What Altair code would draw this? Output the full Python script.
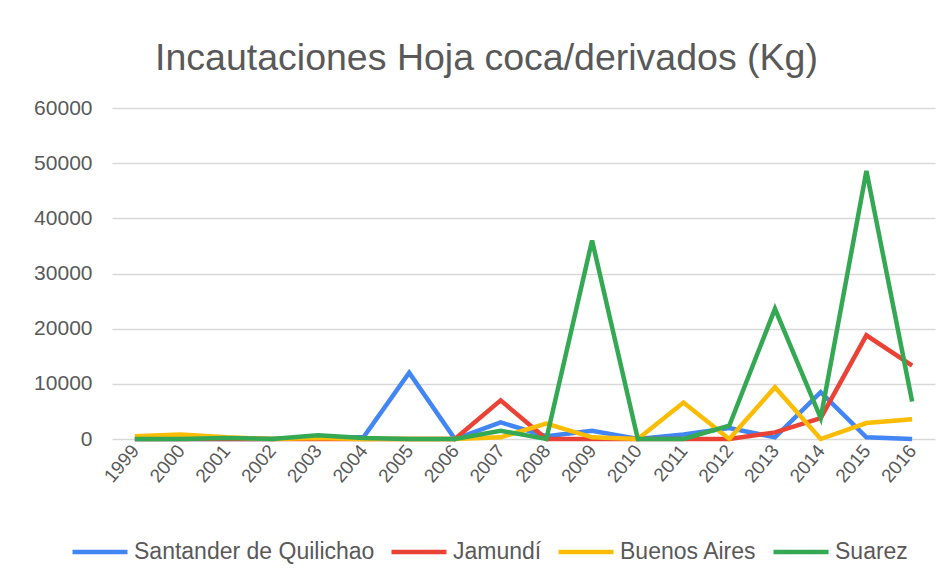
import altair as alt
import pandas as pd

years = [str(y) for y in range(1999, 2017)]
santander = [0, 0, 0, 0, 300, 300, 12000, 0, 3000, 500, 1500, 0, 800, 2000, 300, 8500, 300, 0]
jamundi = [0, 0, 0, 0, 0, 0, 0, 0, 7000, 0, 0, 0, 0, 0, 1200, 3800, 18800, 13300]
buenos_aires = [500, 800, 300, 0, 200, 0, 0, 0, 300, 2800, 300, 0, 6600, 0, 9400, 0, 2900, 3600]
suarez = [0, 0, 200, 0, 700, 200, 0, 0, 1500, 0, 36000, 0, 0, 2400, 23600, 3800, 48600, 6800]

series_names = ["Santander de Quilichao", "Jamundí", "Buenos Aires", "Suarez"]
colors = ["#4285F4", "#EA4335", "#FBBC04", "#34A853"]
y_ticks = [0, 10000, 20000, 30000, 40000, 50000, 60000]

rows = []
for name, vals in zip(series_names, [santander, jamundi, buenos_aires, suarez]):
    for yr, v in zip(years, vals):
        rows.append({"Año": yr, "Kg": v, "Municipio": name})
df = pd.DataFrame(rows)

text_color = "#595959"

chart = alt.Chart(df).mark_line(strokeWidth=4.5).encode(
    x=alt.X(
        "Año:O",
        sort=years,
        axis=alt.Axis(
            title=None, labelAngle=-50, labelFontSize=19, labelColor=text_color,
            ticks=False, domain=False, labelPadding=8, grid=False,
        ),
    ),
    y=alt.Y(
        "Kg:Q",
        scale=alt.Scale(domain=[0, 60000], nice=False),
        axis=alt.Axis(
            title=None, values=y_ticks, format="d", grid=True, gridColor="#d9d9d9",
            gridWidth=1.5, domain=False, ticks=False, labelPadding=20, labelFontSize=21,
            labelColor=text_color,
        ),
    ),
    color=alt.Color(
        "Municipio:N",
        scale=alt.Scale(domain=series_names, range=colors),
        legend=alt.Legend(
            title=None, orient="none", legendX=-42, legendY=414, direction="horizontal",
            symbolType="stroke", symbolSize=3025, symbolStrokeWidth=4.5,
            labelFontSize=23, labelColor=text_color, labelLimit=0,
            columnPadding=7, labelOffset=4,
        ),
    ),
).properties(
    width=823,
    height=331,
    title=alt.Title(
        "Incautaciones Hoja coca/derivados (Kg)", fontSize=37.5, fontWeight="normal",
        color=text_color, dx=-37, offset=20,
    ),
    padding={"left": 104, "top": 100, "right": 4, "bottom": 140},
    autosize=alt.AutoSizeParams(type="none"),
).configure(
    font="Liberation Sans",
).configure_view(
    stroke=None,
)

chart.save("out.html", embed_options={"renderer": "svg", "actions": False})
